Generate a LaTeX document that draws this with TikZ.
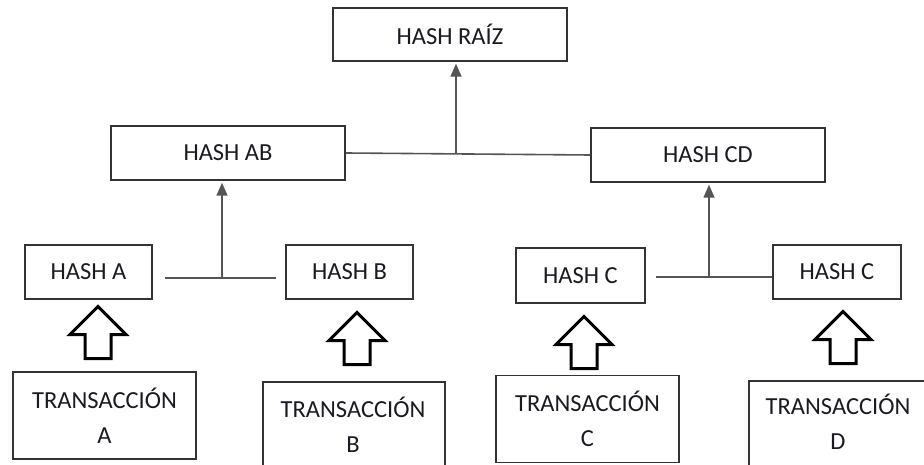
\documentclass[tikz,border=0pt]{standalone}
\usepackage{fontspec}
\setmainfont{Carlito}
\usetikzlibrary{arrows.meta}
\definecolor{boxline}{HTML}{333333}
\definecolor{conn}{HTML}{555555}
\definecolor{txtcol}{HTML}{1A1A22}
\tikzset{
  hbox/.style={draw=boxline, line width=1.5pt, rectangle, inner sep=0pt,
    font=\fontsize{24.5}{35}\selectfont, text=txtcol, align=center},
  txt/.style={inner sep=0pt, font=\fontsize{24.5}{35}\selectfont, text=txtcol, align=center},
  conline/.style={draw=conn, line width=1.6pt},
  upconn/.style={draw=conn, line width=1.6pt, -{Triangle[width=11pt,length=13pt]}, shorten >=2pt},
  barrow/.style={draw=black, line width=3pt, line join=miter, fill=white},
  blockarrow/.pic={\draw[barrow] (0,0) -- (28,28) -- (13,28) -- (13,52) -- (-13,52) -- (-13,28) -- (-28,28) -- cycle;}
}
\begin{document}
\begin{tikzpicture}[x=1pt,y=-1pt]
\useasboundingbox (0,0) rectangle (924,465);
\fill[white] (0,0) rectangle (924,465);
\clip (0,0) rectangle (924,465);

% hash boxes
\node[hbox, minimum width=234pt, minimum height=53pt] (root) at (450,34.5) {HASH RAÍZ};
\node[hbox, minimum width=234pt, minimum height=54pt] (ab) at (228,153) {HASH AB};
\node[hbox, minimum width=234pt, minimum height=54pt] (cd) at (708,155) {HASH CD};
\node[hbox, minimum width=127pt, minimum height=54pt] (ha) at (88.5,272) {HASH A};
\node[hbox, minimum width=127pt, minimum height=54pt] (hb) at (349.5,272) {HASH B};
\node[hbox, minimum width=129pt, minimum height=55pt] (hc) at (580.5,275.5) {HASH C};
\node[hbox, minimum width=128pt, minimum height=54pt] (hd) at (837,272) {HASH C};

% transaction boxes
\node[hbox, minimum width=183pt, minimum height=87pt] (ta) at (104.5,415.5) {TRANSACCIÓN\\A};
\node[hbox, minimum width=182pt, minimum height=120pt, anchor=north west] (tb) at (262,381) {};
\node[txt] (tbt) at (353,425) {TRANSACCIÓN\\B};
\node[hbox, minimum width=183pt, minimum height=87pt] (tc) at (587.5,419) {TRANSACCIÓN\\C};
\node[hbox, minimum width=220pt, minimum height=120pt, anchor=north west] (td) at (748,380) {};
\node[txt] (tdt) at (838,422) {TRANSACCIÓN\\D};

% top level connectors
\draw[conline] (ab.east) -- (cd.west);
\coordinate (m1) at (456,154);
\draw[upconn] (m1) -- (root.south -| m1);

% A-B connectors
\coordinate (l1) at (165,278);
\coordinate (l2) at (276,278);
\coordinate (m2) at (222,278);
\draw[conline] (l1) -- (l2);
\draw[upconn] (m2) -- (ab.south -| m2);

% C-D connectors
\coordinate (r1) at (656,277);
\coordinate (r2) at (hd.west |- r1);
\coordinate (m3) at (709,277);
\draw[conline] (r1) -- (r2);
\draw[upconn] (m3) -- (cd.south -| m3);

% block arrows
\pic at (98,306.5) {blockarrow};
\pic at (357,312.5) {blockarrow};
\pic at (584,316.5) {blockarrow};
\pic at (843,311.5) {blockarrow};
\end{tikzpicture}
\end{document}
